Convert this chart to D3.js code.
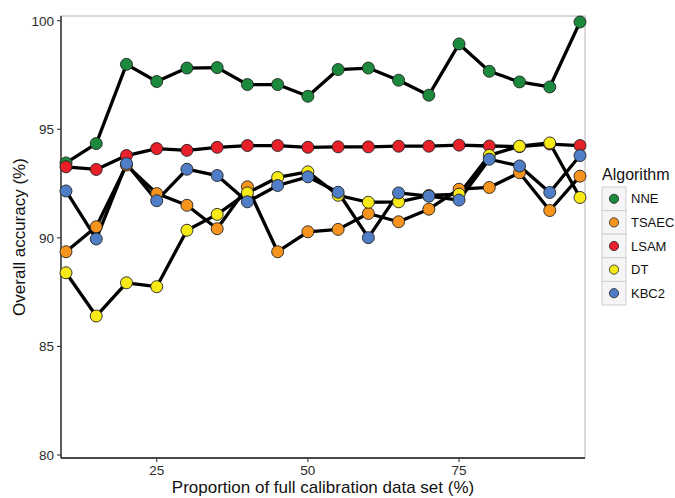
<!DOCTYPE html>
<html>
<head>
<meta charset="utf-8">
<script src="https://cdn.jsdelivr.net/npm/d3@7"></script>
<style>
  body { margin: 0; background: #fff; }
  svg { font-family: "Liberation Sans", Arial, sans-serif; }
</style>
</head>
<body>
<div id="chart"></div>
<script>
// data
const proportions = [10, 15, 20, 25, 30, 35, 40, 45, 50, 55, 60, 65, 70, 75, 80, 85, 90, 95];
const algorithms = ["NNE", "TSAEC", "LSAM", "DT", "KBC2"];
const nneAcc   = [93.45, 94.34, 97.99, 97.2, 97.82, 97.84, 97.06, 97.06, 96.52, 97.75, 97.82, 97.26, 96.57, 98.93, 97.67, 97.18, 96.95, 99.94];
const tsaecAcc = [89.36, 90.51, 93.35, 92.04, 91.5, 90.42, 92.35, 89.36, 90.28, 90.39, 91.12, 90.74, 91.32, 92.24, 92.32, 93.0, 91.26, 92.84];
const lsamAcc  = [93.27, 93.15, 93.79, 94.11, 94.03, 94.17, 94.25, 94.25, 94.17, 94.19, 94.19, 94.22, 94.22, 94.27, 94.23, 94.2, 94.32, 94.25];
const dtAcc    = [88.39, 86.4, 87.93, 87.75, 90.35, 91.08, 92.07, 92.78, 93.04, 91.96, 91.64, 91.66, 91.95, 92.01, 93.8, 94.22, 94.37, 91.86];
const kbc2Acc  = [92.16, 89.95, 93.42, 91.71, 93.16, 92.87, 91.66, 92.41, 92.81, 92.1, 90.01, 92.07, 91.92, 91.74, 93.62, 93.31, 92.09, 93.79];
const yTicks = [80, 85, 90, 95, 100];
const xTicks = [25, 50, 75];
const colors = ["#1b8a3c", "#f7941d", "#e8202a", "#f7ea16", "#4f7dc6"];

const width = 675, height = 498;
const panel = { left: 61, right: 585, top: 16, bottom: 458 };

const series = algorithms.map((name, i) => ({
    name: name,
    color: colors[i],
    values: [nneAcc, tsaecAcc, lsamAcc, dtAcc, kbc2Acc][i].map((v, j) => ({ x: proportions[j], y: v }))
}));

const svg = d3.select("#chart").append("svg")
    .attr("width", width)
    .attr("height", height);

const x = d3.scaleLinear().domain([10, 95]).range([66, 580]);
const y = d3.scaleLinear().domain([80, 100]).range([455, 20.7]);

// panel border (grey top/right)
svg.append("rect")
    .attr("x", panel.left).attr("y", panel.top)
    .attr("width", panel.right - panel.left)
    .attr("height", panel.bottom - panel.top)
    .attr("fill", "none")
    .attr("stroke", "#b3b3b3")
    .attr("stroke-width", 1);

// axes
const xAxis = svg.append("g")
    .attr("transform", "translate(0," + panel.bottom + ")");
xAxis.append("line")
    .attr("x1", panel.left).attr("x2", panel.right)
    .attr("stroke", "#1a1a1a").attr("stroke-width", 1.3);
xAxis.selectAll(".tick")
    .data(xTicks)
    .enter().append("g")
    .attr("transform", d => "translate(" + x(d) + ",0)")
    .each(function (d) {
        const g = d3.select(this);
        g.append("line").attr("y1", 0).attr("y2", 4).attr("stroke", "#333").attr("stroke-width", 1.1);
        g.append("text").attr("y", 17).attr("text-anchor", "middle")
            .style("font-size", "13.5px").attr("fill", "#2b2b2b").text(d);
    });

const yAxis = svg.append("g")
    .attr("transform", "translate(" + panel.left + ",0)");
yAxis.append("line")
    .attr("y1", panel.top).attr("y2", panel.bottom)
    .attr("stroke", "#1a1a1a").attr("stroke-width", 1.3);
yAxis.selectAll(".tick")
    .data(yTicks)
    .enter().append("g")
    .attr("transform", d => "translate(0," + y(d) + ")")
    .each(function (d) {
        const g = d3.select(this);
        g.append("line").attr("x1", -4).attr("x2", 0).attr("stroke", "#333").attr("stroke-width", 1.1);
        g.append("text").attr("x", -7).attr("dy", "0.36em").attr("text-anchor", "end")
            .style("font-size", "13.5px").attr("fill", "#2b2b2b").text(d);
    });

// axis titles
svg.append("text")
    .attr("x", (panel.left + panel.right) / 2)
    .attr("y", 493)
    .attr("text-anchor", "middle")
    .style("font-size", "17px")
    .attr("fill", "#111")
    .text("Proportion of full calibration data set (%)");

svg.append("text")
    .attr("transform", "translate(25," + ((panel.top + panel.bottom) / 2) + ") rotate(-90)")
    .attr("text-anchor", "middle")
    .style("font-size", "17px")
    .attr("fill", "#111")
    .text("Overall accuracy  (%)");

// lines first, then points (like ggplot layers)
const line = d3.line().x(d => x(d.x)).y(d => y(d.y));
svg.append("g")
    .selectAll("path")
    .data(series)
    .enter().append("path")
    .attr("d", d => line(d.values))
    .attr("fill", "none")
    .attr("stroke", "#000")
    .attr("stroke-width", 3.3)
    .attr("stroke-linejoin", "round");

series.forEach(function (s) {
    svg.append("g")
        .selectAll("circle")
        .data(s.values)
        .enter().append("circle")
        .attr("cx", d => x(d.x))
        .attr("cy", d => y(d.y))
        .attr("r", 6)
        .attr("fill", s.color)
        .attr("stroke", "#222")
        .attr("stroke-width", 0.9);
});

// legend
const legend = svg.append("g").attr("transform", "translate(602,187)");
legend.append("text")
    .attr("x", 0).attr("y", -7)
    .style("font-size", "16px")
    .attr("fill", "#111")
    .text("Algorithm");

const keys = legend.selectAll(".key")
    .data(series)
    .enter().append("g")
    .attr("transform", (d, i) => "translate(0," + i * 23.6 + ")");
keys.append("rect")
    .attr("width", 24).attr("height", 23.6)
    .attr("fill", "#f5f5f5")
    .attr("stroke", "#d0d0d0")
    .attr("stroke-width", 1);
keys.append("circle")
    .attr("cx", 12).attr("cy", 11.8).attr("r", 4.6)
    .attr("fill", d => d.color)
    .attr("stroke", "#222")
    .attr("stroke-width", 0.8);
keys.append("text")
    .attr("x", 29).attr("y", 11.8).attr("dy", "0.36em")
    .style("font-size", "13px")
    .attr("fill", "#111")
    .text(d => d.name);
</script>
</body>
</html>
